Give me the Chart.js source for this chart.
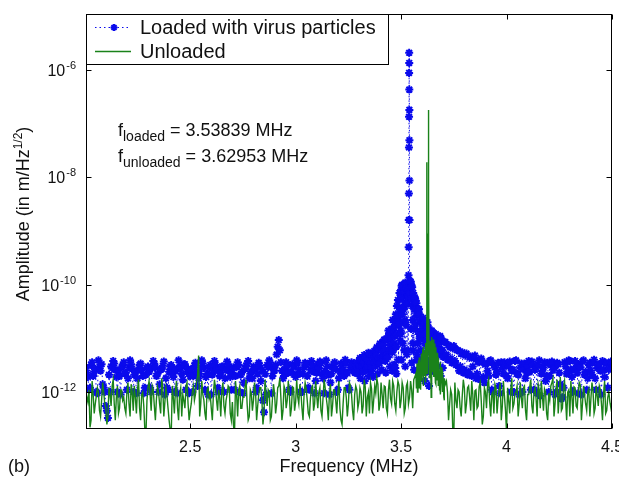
<!DOCTYPE html>
<html>
<head>
<meta charset="utf-8">
<script src="https://cdn.jsdelivr.net/npm/chart.js@4.4.1/dist/chart.umd.min.js"></script>
<style>
  html, body { margin: 0; padding: 0; background: #fff; }
  #spectrum { display: block; }
</style>
</head>
<body>
<canvas id="spectrum" width="619" height="482"></canvas>
<script>
// amplitudes are kept in pm/Hz^1/2 and turned into m/Hz^1/2 when the datasets are built
var PM = 1e-12;

// frequency grid (MHz)
var gridFreq = [
  2.01,2.02,2.03,2.04,2.05,2.06,2.07,2.08,2.09,2.10,
  2.11,2.12,2.13,2.14,2.15,2.16,2.17,2.18,2.19,2.20,
  2.21,2.22,2.23,2.24,2.25,2.26,2.27,2.28,2.29,2.30,
  2.31,2.32,2.33,2.34,2.35,2.36,2.37,2.38,2.39,2.40,
  2.41,2.42,2.43,2.44,2.45,2.46,2.47,2.48,2.49,2.50,
  2.51,2.52,2.53,2.54,2.55,2.56,2.57,2.58,2.59,2.60,
  2.61,2.62,2.63,2.64,2.65,2.66,2.67,2.68,2.69,2.70,
  2.71,2.72,2.73,2.74,2.75,2.76,2.77,2.78,2.79,2.80,
  2.81,2.82,2.83,2.84,2.85,2.86,2.87,2.88,2.89,2.90,
  2.91,2.92,2.93,2.94,2.95,2.96,2.97,2.98,2.99,3.00,
  3.01,3.02,3.03,3.04,3.05,3.06,3.07,3.08,3.09,3.10,
  3.11,3.12,3.13,3.14,3.15,3.16,3.17,3.18,3.19,3.20,
  3.21,3.22,3.23,3.24,3.25,3.26,3.27,3.28,3.29,3.30,
  3.31,3.32,3.33,3.34,3.35,3.36,3.37,3.38,3.39,3.40,
  3.41,3.42,3.43,3.44,3.45,3.46,3.47,3.48,3.49,3.50,
  3.51,3.52,3.53,3.54,3.55,3.56,3.57,3.58,3.59,3.60,
  3.61,3.62,3.63,3.64,3.65,3.66,3.67,3.68,3.69,3.70,
  3.71,3.72,3.73,3.74,3.75,3.76,3.77,3.78,3.79,3.80,
  3.81,3.82,3.83,3.84,3.85,3.86,3.87,3.88,3.89,3.90,
  3.91,3.92,3.93,3.94,3.95,3.96,3.97,3.98,3.99,4.00,
  4.01,4.02,4.03,4.04,4.05,4.06,4.07,4.08,4.09,4.10,
  4.11,4.12,4.13,4.14,4.15,4.16,4.17,4.18,4.19,4.20,
  4.21,4.22,4.23,4.24,4.25,4.26,4.27,4.28,4.29,4.30,
  4.31,4.32,4.33,4.34,4.35,4.36,4.37,4.38,4.39,4.40,
  4.41,4.42,4.43,4.44,4.45,4.46,4.47,4.48,4.49,4.50
];

// in-between sweep points (MHz)
var halfFreq = [
  2.005,2.015,2.025,2.035,2.045,2.055,2.065,2.075,2.085,2.095,
  2.105,2.115,2.125,2.135,2.145,2.155,2.165,2.175,2.185,2.195,
  2.205,2.215,2.225,2.235,2.245,2.255,2.265,2.275,2.285,2.295,
  2.305,2.315,2.325,2.335,2.345,2.355,2.365,2.375,2.385,2.395,
  2.405,2.415,2.425,2.435,2.445,2.455,2.465,2.475,2.485,2.495,
  2.505,2.515,2.525,2.535,2.545,2.555,2.565,2.575,2.585,2.595,
  2.605,2.615,2.625,2.635,2.645,2.655,2.665,2.675,2.685,2.695,
  2.705,2.715,2.725,2.735,2.745,2.755,2.765,2.775,2.785,2.795,
  2.805,2.815,2.825,2.835,2.845,2.855,2.865,2.875,2.885,2.895,
  2.905,2.915,2.925,2.935,2.945,2.955,2.965,2.975,2.985,2.995,
  3.005,3.015,3.025,3.035,3.045,3.055,3.065,3.075,3.085,3.095,
  3.105,3.115,3.125,3.135,3.145,3.155,3.165,3.175,3.185,3.195,
  3.205,3.215,3.225,3.235,3.245,3.255,3.265,3.275,3.285,3.295,
  3.305,3.315,3.325,3.335,3.345,3.355,3.365,3.375,3.385,3.395,
  3.405,3.415,3.425,3.435,3.445,3.455,3.465,3.475,3.485,3.495,
  3.505,3.515,3.525,3.535,3.545,3.555,3.565,3.575,3.585,3.595,
  3.605,3.615,3.625,3.635,3.645,3.655,3.665,3.675,3.685,3.695,
  3.705,3.715,3.725,3.735,3.745,3.755,3.765,3.775,3.785,3.795,
  3.805,3.815,3.825,3.835,3.845,3.855,3.865,3.875,3.885,3.895,
  3.905,3.915,3.925,3.935,3.945,3.955,3.965,3.975,3.985,3.995,
  4.005,4.015,4.025,4.035,4.045,4.055,4.065,4.075,4.085,4.095,
  4.105,4.115,4.125,4.135,4.145,4.155,4.165,4.175,4.185,4.195,
  4.205,4.215,4.225,4.235,4.245,4.255,4.265,4.275,4.285,4.295,
  4.305,4.315,4.325,4.335,4.345,4.355,4.365,4.375,4.385,4.395,
  4.405,4.415,4.425,4.435,4.445,4.455,4.465,4.475,4.485,4.495
];

// loaded cantilever
var loadedAmp = [
  2.3,1.1,3.2,2.0,2.7,0.95,3.0,3.3,1.2,0.55,
  0.33,1.0,2.8,3.4,1.9,2.5,0.9,3.1,2.2,1.1,
  2.9,3.3,1.0,2.4,1.8,3.2,2.6,0.95,2.1,3.0,
  1.2,2.8,3.4,2.0,1.0,2.6,3.1,0.9,1.2,2.4,
  3.2,1.9,2.5,0.95,3.0,2.2,3.3,1.1,2.7,2.0,
  1.0,3.1,2.4,1.8,2.9,3.4,1.1,2.2,2.8,0.9,
  2.5,3.2,1.2,2.0,3.0,1.0,2.6,3.3,1.9,2.3,
  1.1,2.9,3.2,2.1,0.95,2.7,3.4,1.8,2.4,3.0,
  1.0,2.2,3.1,2.6,0.42,0.9,2.9,3.3,2.0,2.5,
  5.0,9.3,3.6,1.8,2.7,3.2,1.1,2.4,3.0,1.9,
  3.5,2.2,1.0,2.9,3.3,1.2,2.6,3.1,0.95,2.3,
  2.8,3.4,1.8,2.5,3.0,0.9,2.2,3.3,2.7,1.1,
  2.4,3.1,2.0,3.5,1.2,2.9,3.2,2.3,3.6,2.6,
  3.8,2.4,4.5,3.1,5.0,2.8,4.2,6.0,3.5,8.0,
  5.5,9.5,4.5,14,7.5,22,11,40,18,80,
  35,110,60,120,95,40,50,30,20,12,
  20,9,16,7,13,6.5,11,5,10,4.5,
  8.5,4.0,7.0,3.5,7.2,3.2,6.0,3.0,5.5,2.6,
  5.2,2.4,4.6,3.0,4.8,2.2,3.6,4.2,1.9,3.3,
  2.5,3.8,1.1,3.2,2.1,3.5,0.95,2.8,3.6,2.0,
  3.0,1.0,2.6,3.8,2.2,0.9,3.4,2.7,1.8,3.1,
  2.4,3.7,1.1,2.9,3.3,0.85,2.5,3.6,2.0,1.0,
  3.2,2.6,0.9,3.5,2.3,0.75,1.2,3.0,2.4,3.8,
  1.9,2.7,3.4,0.95,2.9,3.7,2.1,1.1,3.2,2.5,
  3.6,1.8,2.8,3.3,0.9,2.6,3.5,1.2,2.9,3.4
];
var loadedHalfAmp = [
  2.8,1.9,1.2,3.6,2.4,1.0,3.9,2.5,1.4,1.0,
  0.45,2.1,3.0,3.8,2.6,1.0,2.0,2.9,3.6,2.3,
  1.8,3.9,2.7,2.1,0.95,2.6,3.4,2.0,1.2,2.8,
  2.4,1.0,3.8,2.9,2.2,1.4,2.7,3.7,1.8,1.1,
  3.0,2.3,1.0,2.7,3.9,2.8,1.7,3.3,2.4,0.95,
  2.6,2.0,3.5,1.3,2.2,3.9,2.8,1.9,0.9,3.2,
  2.1,3.8,2.6,1.0,2.3,3.0,1.8,3.7,2.5,1.1,
  2.9,2.0,3.6,1.0,2.4,1.5,3.1,3.8,2.2,1.8,
  2.7,1.2,3.5,1.6,0.7,2.2,3.2,3.9,0.95,2.6,
  3.2,7.0,6.0,2.5,2.0,3.6,2.3,1.0,3.3,2.1,
  3.9,2.6,1.0,2.2,3.5,2.0,1.1,3.8,2.4,1.6,
  3.3,3.7,2.2,0.95,3.9,2.1,1.5,2.9,3.6,1.0,
  1.8,3.4,2.6,4.0,2.3,1.1,3.6,2.5,3.2,2.2,
  4.3,3.0,4.9,2.6,5.4,3.4,5.0,3.6,6.8,4.2,
  7.5,4.5,9.5,5.0,11,6.0,16,7.0,26,9.0,
  100,6,85,80,112,8,58,5,35,4,
  24,8,20,6.5,14,5.5,12,7,10.5,5.0,
  8.5,5.0,7.5,4.2,6.5,3.8,6.0,2.5,5.2,2.3,
  4.8,2.1,4.4,2.0,4.2,1.8,3.8,1.7,3.6,1.5,
  3.4,2.0,3.9,1.0,2.9,2.4,1.3,3.6,2.2,3.1,
  1.8,3.7,2.5,1.0,3.9,2.1,2.8,1.0,3.4,2.3,
  3.8,1.1,3.2,2.6,0.95,3.9,2.2,2.9,1.6,3.5,
  2.0,3.7,2.8,1.0,3.3,1.4,0.8,3.6,2.2,3.9,
  2.6,1.0,3.8,2.3,3.1,0.9,3.9,2.4,1.8,3.5,
  2.1,4.0,1.1,3.2,2.5,3.8,1.9,3.4,2.6,3.7
];

// fine sweep across the loaded resonance
var loadedPeakFreq = [
  3.405,3.415,3.425,3.435,3.445,3.455,3.4575,3.465,3.4675,3.4725,
  3.475,3.4775,3.4825,3.485,3.4875,3.4925,3.495,3.4975,3.5015,3.5025,
  3.505,3.5075,3.5125,3.515,3.5175,3.5195,3.5225,3.525,3.5275,3.5325,
  3.5335,3.5342,3.5352,3.5360,3.5365,3.5369,3.5373,3.5377,3.5380,3.5383,
  3.5386,3.5389,3.5392,3.5395,3.5397,3.5399,3.5425,3.545,3.5475,3.5505,
  3.5525,3.555,3.5575,3.5615,3.5625,3.565,3.5675,3.5725,3.5735,3.575,
  3.5775,3.5825,3.5855,3.585,3.5875,3.5925,3.595,3.5975,3.599,3.605,
  3.6125,3.615,3.6225,3.625,3.6325,3.635,3.645,3.655,3.665,3.675,
  3.685,3.695
];
var loadedPeakAmp = [
  4.2,7.5,3.8,10,6,15,2.5,8,3.2,2.8,
  28,2.2,12,52,20,70,35,14,4,95,
  28,60,20,75,40,3,105,18,85,45,
  6,60,150,500,1600,5000,36000,134000,880000,2080000,
  1350000,430000,180000,49000,8700,1600,70,115,55,3.5,
  90,22,70,2.6,35,55,15,45,4,26,
  8,35,2.2,12,28,6,22,10,3,18,
  1.6,8,2.4,16,1.3,6,12,4.5,10.5,5.5,
  11,6
];
var loadedBlobFreq = [
  3.3025,3.3075,3.3125,3.3175,3.3225,3.3275,3.3325,3.3375,3.3425,3.3475,
  3.3525,3.3575,3.3625,3.3675,3.3725,3.3775,3.3825,3.3875,3.3925,3.3975,
  3.4025,3.4075,3.4125,3.4175,3.4225,3.4275,3.4325,3.4375,3.4425,3.4475,
  3.4525,3.4575,3.4625,3.4675,3.4725,3.4775,3.4825,3.4875,3.4925,3.4975,
  3.5025,3.5075,3.5125,3.5175,3.5225,3.5275,3.5325,3.5425,3.5475,
  3.5525,3.5575,3.5625,3.5675,3.5725,3.5775,3.5825,3.5875,3.5925,3.5975,
  3.6025,3.6075,3.6125,3.6175,3.6225,3.6275,3.6325,3.6375,3.6425,3.6475,
  3.6525,3.6575,3.6625,3.6675,3.6725,3.6775,3.6825,3.6875,3.6925,3.6975
];
var loadedBlobAmp = [
  3.2,1.8,4.0,2.4,3.5,1.6,4.4,2.8,3.9,2.0,
  5.2,2.5,4.6,1.9,5.8,3.0,4.8,2.2,6.5,3.4,
  7.0,2.6,8.5,4.0,6.2,2.3,9.5,4.5,12,3.0,
  10,5.5,14,3.2,18,7.0,25,4.0,38,12,
  55,8,70,22,45,5,65,90,15,
  40,6,50,18,35,4,28,10,20,3,
  15,5,12,3.5,16,2.8,9,4,11,2.5,
  8,3.2,9.5,2.2,7,3.0,8.5,2.0,6,2.8
];

// unloaded cantilever
var unloadedAmp = [
  0.8,1.1,0.3,0.9,0.6,1.2,0.45,0.7,1.0,0.5,
  0.35,0.9,1.3,0.6,0.8,0.4,1.1,0.7,0.5,1.0,
  0.6,1.4,0.45,0.8,1.1,0.5,0.9,0.55,0.15,1.2,
  0.9,1.3,0.55,0.75,1.0,0.4,1.2,0.65,0.85,0.3,
  0.15,0.8,1.1,0.5,0.95,0.35,0.7,1.25,0.6,0.45,
  1.0,0.7,1.5,4.8,0.6,0.9,0.4,1.1,0.75,0.5,
  0.9,1.2,0.45,0.8,1.05,0.55,0.7,1.3,0.4,0.65,
  0.15,0.9,1.1,0.5,0.8,1.25,0.6,0.35,0.95,0.7,
  1.0,0.55,1.2,0.7,0.4,0.85,1.1,0.3,0.75,0.95,
  0.6,1.3,0.8,0.45,1.1,0.7,0.95,0.5,1.2,0.65,
  0.8,1.4,0.5,0.9,1.15,0.4,0.75,1.3,0.6,0.85,
  1.0,0.45,0.8,1.2,0.55,0.9,0.35,1.1,0.7,0.95,
  0.5,0.25,1.2,0.8,0.6,1.3,0.45,0.9,1.1,0.65,
  1.0,0.55,1.25,0.8,0.4,1.15,0.7,0.95,1.4,0.6,
  0.9,1.3,0.5,1.1,0.75,1.6,0.6,1.0,1.35,0.7,
  1.2,0.5,1.5,0.8,1.1,1.7,2.2,2.0,2.8,3.2,
  4.0,5.0,7300,4.0,5.0,3.5,3.0,2.2,1.8,1.4,
  1.4,1.0,0.6,0.9,0.17,0.7,1.1,0.5,0.85,1.2,
  0.6,1.3,0.45,0.9,1.05,0.5,1.25,0.7,0.35,1.0,
  1.4,0.65,0.9,0.4,1.2,0.75,1.5,0.55,0.85,0.18,
  0.7,1.1,0.5,0.95,1.3,0.6,0.8,1.2,0.45,0.9,
  1.25,0.55,1.0,0.75,1.4,0.5,0.85,1.15,0.4,0.95,
  1.3,1.8,0.6,1.7,0.9,0.45,1.2,0.7,1.0,0.35,
  0.8,1.25,0.55,1.0,1.35,0.6,0.9,0.45,1.15,0.75,
  1.05,0.5,0.85,1.3,0.6,0.95,0.4,0.8,0.65,0.7
];
var unloadedHalfAmp = [
  0.5,0.65,0.22,1.6,0.4,0.85,1.0,0.35,1.5,0.6,
  0.25,1.2,0.55,1.7,0.3,1.3,0.5,1.1,0.8,0.4,
  1.5,0.35,1.0,1.3,0.4,1.7,0.3,1.0,0.2,0.7,
  1.6,0.45,1.1,0.3,1.25,0.6,1.8,0.35,1.2,0.5,
  0.2,1.3,0.4,1.6,0.3,1.2,0.9,0.5,1.5,0.3,
  0.6,1.3,0.9,2.0,0.35,1.6,0.7,0.3,1.2,0.9,
  0.3,1.7,0.7,1.1,0.35,1.5,0.4,0.9,1.2,0.3,
  0.25,1.6,0.35,1.3,0.5,0.8,1.7,0.3,1.1,0.45,
  1.5,0.3,0.9,1.2,0.25,1.7,0.55,1.0,0.35,1.4,
  0.4,1.2,1.8,0.3,1.3,0.5,1.6,0.35,1.25,0.45,
  1.7,0.6,1.0,0.3,1.5,0.7,0.35,1.2,0.45,1.6,
  0.5,1.2,0.35,1.7,0.8,0.3,1.4,0.55,1.1,0.4,
  1.6,0.3,0.6,1.2,0.35,1.5,0.9,0.3,1.3,0.5,
  1.2,0.4,1.7,0.35,1.0,1.5,0.4,1.3,1.8,0.45,
  1.5,0.5,1.25,0.4,1.7,0.6,1.3,0.45,1.6,0.5,
  1.5,0.4,1.3,0.6,1.6,0.5,1.9,3.0,1.2,4.6,
  1.4,6.0,2.5,4.5,1.0,8.5,1.4,3.6,1.1,2.5,
  0.7,1.6,0.3,1.1,0.2,1.5,0.5,1.0,0.35,1.7,
  0.4,1.2,0.8,1.6,0.3,1.1,0.55,1.5,0.25,1.2,
  0.5,1.7,0.35,1.0,1.4,0.4,1.1,0.3,1.6,0.45,
  1.2,0.4,1.8,0.6,1.0,0.35,1.5,0.5,1.3,0.3,
  0.9,1.7,0.4,1.2,0.35,1.1,1.6,0.45,1.0,0.3,
  0.7,1.5,0.35,1.2,0.4,1.9,0.5,1.6,0.3,1.1,
  1.6,0.4,1.2,0.5,1.5,0.3,1.3,0.6,1.0,0.35,
  1.5,0.4,1.3,0.55,1.1,0.3,1.6,0.45,1.0,0.5
];

// fine sweep across the unloaded resonance
var unloadedPeakFreq = [
  3.5725,3.575,3.5775,3.5825,3.585,3.5875,3.5925,3.595,3.5975,3.6025,
  3.605,3.6075,3.6125,3.615,3.6175,3.6215,3.6225,3.6235,3.6265,3.6285,
  3.6295,3.6312,3.6325,3.635,3.6375,3.6425,3.645,3.6475,3.6525,3.655,
  3.6575,3.6625,3.665,3.6675,3.6725,3.675,3.6775,3.6825,3.685,3.6875,
  3.6925,3.695,3.6975,3.7025,3.705
];
var unloadedPeakAmp = [
  1.2,3.4,1.0,3.9,1.4,4.4,1.1,5.2,1.6,6.3,
  1.3,7.0,2.0,8.2,1.5,9.4,19000,2.2,8.5,900,
  180000,150,6.0,1.8,9.0,0.8,10.6,2.4,9.5,1.9,
  8.0,1.5,6.8,1.7,5.4,1.3,4.4,1.1,3.6,0.9,
  2.9,1.0,2.4,0.8,1.8
];

var xTicks = [2.5, 3, 3.5, 4, 4.5];
var xTickLabels = ['2.5', '3', '3.5', '4', '4.5'];
var yTickExp = [-6, -8, -10, -12];

var seriesNames = ['Loaded with virus particles', 'Unloaded'];
var fLoaded = '3.53839';
var fUnloaded = '3.62953';

var BLUE = 'rgb(10,10,236)';
var GREEN = 'rgb(26,130,26)';
var FONT = '"Liberation Sans", Arial, Helvetica, sans-serif';

// merge [freq, amp] array pairs into one x-sorted point list
function buildPoints(pairs) {
  var pts = [];
  pairs.forEach(function (p) {
    for (var i = 0; i < p[0].length; i++) pts.push({ x: p[0][i], y: p[1][i] * PM });
  });
  pts.sort(function (a, b) { return a.x - b.x; });
  return pts;
}

function drawStar(ctx, cx, cy, r) {
  ctx.beginPath();
  ctx.moveTo(cx - r, cy); ctx.lineTo(cx + r, cy);
  ctx.moveTo(cx, cy - r); ctx.lineTo(cx, cy + r);
  var d = r * Math.SQRT1_2;
  ctx.moveTo(cx - d, cy - d); ctx.lineTo(cx + d, cy + d);
  ctx.moveTo(cx - d, cy + d); ctx.lineTo(cx + d, cy - d);
  ctx.stroke();
}

// frame, inward ticks, labels, legend box and the frequency note
var decorations = {
  id: 'decorations',
  afterDatasetsDraw: function (chart) {
    var ctx = chart.ctx, a = chart.chartArea;
    var x = chart.scales.x, y = chart.scales.y;
    var L = Math.round(a.left) + 0.5, R = Math.round(a.right) - 0.5;
    var T = Math.round(a.top) + 0.5, B = Math.round(a.bottom) - 0.5;
    ctx.save();
    ctx.strokeStyle = '#000';
    ctx.lineWidth = 1;
    ctx.strokeRect(L, T, R - L, B - T);

    ctx.beginPath();
    xTicks.forEach(function (v) {
      var px = Math.round(x.getPixelForValue(v)) + 0.5;
      ctx.moveTo(px, B); ctx.lineTo(px, B - 5);
      ctx.moveTo(px, T); ctx.lineTo(px, T + 5);
    });
    yTickExp.forEach(function (e) {
      var py = Math.round(y.getPixelForValue(Math.pow(10, e))) + 0.5;
      ctx.moveTo(L, py); ctx.lineTo(L + 5, py);
      ctx.moveTo(R, py); ctx.lineTo(R - 5, py);
    });
    ctx.stroke();

    ctx.fillStyle = '#111';
    ctx.textBaseline = 'alphabetic';

    // x tick labels
    ctx.font = '16px ' + FONT;
    ctx.textAlign = 'center';
    xTicks.forEach(function (v, i) {
      ctx.fillText(xTickLabels[i], x.getPixelForValue(v), 452);
    });

    // y tick labels as powers of ten
    ctx.textAlign = 'left';
    yTickExp.forEach(function (e) {
      var py = y.getPixelForValue(Math.pow(10, e));
      var sup = '-' + Math.abs(e);
      ctx.font = '11px ' + FONT;
      var sw = ctx.measureText(sup).width;
      ctx.font = '16px ' + FONT;
      var bw = ctx.measureText('10').width;
      var x0 = 76 - sw - bw - 1;
      ctx.fillText('10', x0, py + 6);
      ctx.font = '11px ' + FONT;
      ctx.fillText(sup, x0 + bw + 1, py - 1);
    });

    // axis titles
    ctx.font = '18px ' + FONT;
    ctx.textAlign = 'center';
    ctx.fillText('Frequency (MHz)', (a.left + a.right) / 2, 472);
    ctx.textAlign = 'left';
    ctx.fillText('(b)', 8, 472);

    ctx.save();
    ctx.translate(29, 214);
    ctx.rotate(-Math.PI / 2);
    var t1 = 'Amplitude (in m/Hz', t2 = '1/2', t3 = ')';
    ctx.font = '18px ' + FONT;
    var w1 = ctx.measureText(t1).width, w3 = ctx.measureText(t3).width;
    ctx.font = '12px ' + FONT;
    var w2 = ctx.measureText(t2).width;
    var sx = -(w1 + w2 + w3) / 2;
    ctx.font = '18px ' + FONT;
    ctx.fillText(t1, sx, 0);
    ctx.fillText(t3, sx + w1 + w2, 0);
    ctx.font = '12px ' + FONT;
    ctx.fillText(t2, sx + w1, -7);
    ctx.restore();

    // resonance frequencies
    function note(sub, val, base) {
      var px = 118;
      ctx.font = '18px ' + FONT;
      ctx.fillText('f', px, base);
      px += ctx.measureText('f').width;
      ctx.font = '14px ' + FONT;
      ctx.fillText(sub, px, base + 5);
      px += ctx.measureText(sub).width;
      ctx.font = '18px ' + FONT;
      ctx.fillText(' = ' + val + ' MHz', px, base);
    }
    note('loaded', fLoaded, 136);
    note('unloaded', fUnloaded, 162);

    // legend box
    ctx.fillStyle = '#fff';
    ctx.fillRect(L, T, 388.5 - L, 64.5 - T);
    ctx.strokeStyle = '#000';
    ctx.strokeRect(L, T, 388.5 - L, 64.5 - T);

    ctx.strokeStyle = BLUE;
    ctx.lineWidth = 1;
    ctx.setLineDash([1.5, 3]);
    ctx.beginPath(); ctx.moveTo(95, 27.5); ctx.lineTo(130, 27.5); ctx.stroke();
    ctx.setLineDash([]);
    ctx.lineWidth = 2;
    drawStar(ctx, 114, 27.5, 3.5);

    ctx.strokeStyle = GREEN;
    ctx.lineWidth = 1.5;
    ctx.beginPath(); ctx.moveTo(95, 51.5); ctx.lineTo(131, 51.5); ctx.stroke();

    ctx.fillStyle = '#111';
    ctx.font = '20px ' + FONT;
    ctx.fillText(seriesNames[0], 140, 34);
    ctx.fillText(seriesNames[1], 140, 58);
    ctx.restore();
  }
};

var ctx = document.getElementById('spectrum').getContext('2d');
var chart = new Chart(ctx, {
  type: 'line',
  data: {
    datasets: [{
      label: seriesNames[1],
      data: buildPoints([[gridFreq, unloadedAmp], [halfFreq, unloadedHalfAmp], [unloadedPeakFreq, unloadedPeakAmp]]),
      borderColor: GREEN,
      borderWidth: 1.4,
      pointRadius: 0,
      tension: 0,
      clip: 0,
      order: 0
    }, {
      label: seriesNames[0],
      data: buildPoints([[gridFreq, loadedAmp], [halfFreq, loadedHalfAmp], [loadedPeakFreq, loadedPeakAmp], [loadedBlobFreq, loadedBlobAmp]]),
      borderColor: BLUE,
      borderWidth: 1,
      borderDash: [1.5, 3],
      pointStyle: 'star',
      pointRadius: 4,
      pointBorderWidth: 2,
      pointBorderColor: BLUE,
      pointBackgroundColor: BLUE,
      tension: 0,
      clip: 0,
      order: 1
    }]
  },
  options: {
    responsive: false,
    animation: false,
    devicePixelRatio: 1,
    layout: { padding: { left: 86, right: 7, top: 14, bottom: 53 } },
    scales: {
      x: { type: 'linear', display: false, min: 2.006, max: 4.5 },
      y: { type: 'logarithmic', display: false, min: 2.05e-13, max: 1.1e-5 }
    },
    plugins: {
      legend: { display: false },
      tooltip: { enabled: false }
    }
  },
  plugins: [decorations]
});
</script>
</body>
</html>
